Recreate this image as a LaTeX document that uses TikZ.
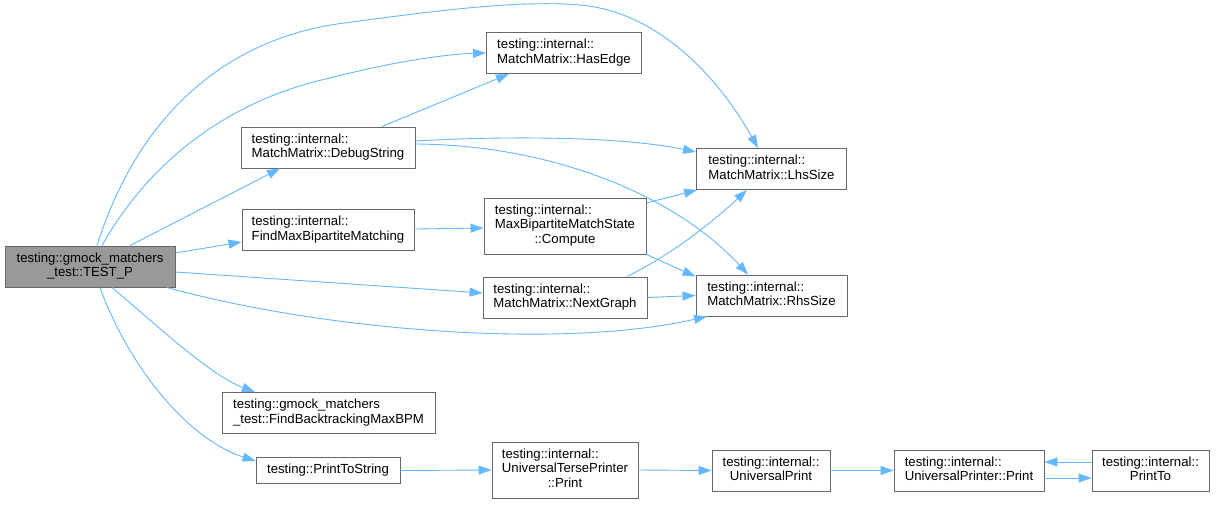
\documentclass[tikz,border=0pt]{standalone}
\usepackage{fontspec}
\setmainfont{Liberation Sans}
\usetikzlibrary{arrows.meta}
\definecolor{edgeblue}{HTML}{63B8FF}
\definecolor{boxline}{HTML}{666666}
\definecolor{curfill}{HTML}{999999}
% label: leading lines left-aligned, last line centred
\newcommand{\mlab}[2]{\begin{tabular}{@{}l@{}}#1\\\multicolumn{1}{@{}c@{}}{#2}\end{tabular}}
\begin{document}
\begin{tikzpicture}[x=1pt,y=-1pt,
  font=\fontsize{13.2}{14.5}\selectfont,
  fn/.style={draw=boxline, line width=0.9pt, fill=white, rectangle, inner sep=0pt, align=center, minimum height=41pt},
  call/.style={draw=edgeblue, line width=0.9pt, -{Triangle[length=13pt,width=9pt]}, fill=none}]
\useasboundingbox[fill=white] (0,0) rectangle (1216,504);

% functions
\node[fn, fill=curfill, minimum width=170pt] (testp) at (90,266.5) {\mlab{testing::gmock\_matchers}{\_test::TEST\_P}};
\node[fn, minimum width=155pt] (hasedge) at (564,53) {\mlab{testing::internal::}{MatchMatrix::HasEdge}};
\node[fn, minimum width=174pt] (debug) at (328,147.5) {\mlab{testing::internal::}{MatchMatrix::DebugString}};
\node[fn, minimum width=150pt] (lhs) at (771.5,169) {\mlab{testing::internal::}{MatchMatrix::LhsSize}};
\node[fn, minimum width=172pt] (findmax) at (328,230) {\mlab{testing::internal::}{FindMaxBipartiteMatching}};
\node[fn, minimum width=162pt, minimum height=56pt] (compute) at (565,226) {\mlab{testing::internal::\\MaxBipartiteMatchState}{::Compute}};
\node[fn, minimum width=164pt] (nextgraph) at (565,297.5) {\mlab{testing::internal::}{MatchMatrix::NextGraph}};
\node[fn, minimum width=151pt] (rhs) at (771.5,295.5) {\mlab{testing::internal::}{MatchMatrix::RhsSize}};
\node[fn, minimum width=213pt] (bpm) at (328.5,413) {\mlab{testing::gmock\_matchers}{\_test::FindBacktrackingMaxBPM}};
\node[fn, minimum width=144pt, minimum height=26pt] (pts) at (328,470.5) {testing::PrintToString};
\node[fn, minimum width=146pt, minimum height=56pt] (utp) at (565,470) {\mlab{testing::internal::\\UniversalTersePrinter}{::Print}};
\node[fn, minimum width=118pt] (uprint) at (771,470.5) {\mlab{testing::internal::}{UniversalPrint}};
\node[fn, minimum width=150pt] (upp) at (969,470.5) {\mlab{testing::internal::}{UniversalPrinter::Print}};
\node[fn, minimum width=117pt] (printto) at (1150.5,470.5) {\mlab{testing::internal::}{PrintTo}};

% calls from TEST_P
\draw[call] ([xshift=7pt]testp.north) .. controls (140,110) and (230,40) .. (337,24)
  .. controls (440,10) and (520,0) .. (580,5)
  .. controls (660,12) and (720,80) .. ([xshift=-13.5pt]lhs.north);
\draw[call] ([xshift=12pt]testp.north) .. controls (150,160) and (230,100) .. (330,78)
  .. controls (400,60) and (450,54) .. (hasedge.west);
\draw[call] ([xshift=40pt]testp.north) -- ([xshift=-48pt]debug.south);
\draw[call] ([yshift=13.5pt]testp.east) -- ([yshift=-12pt]findmax.west);
\draw[call] ([yshift=-5.5pt]testp.east) -- ([yshift=4.5pt]nextgraph.west);
\draw[call] ([xshift=77pt]testp.south) .. controls (320,330) and (560,350) .. ([xshift=-64.5pt]rhs.south);
\draw[call] ([xshift=22pt]testp.south) .. controls (160,328) and (210,375) .. ([xshift=-73.5pt]bpm.north);
\draw[call] ([xshift=10pt]testp.south) .. controls (130,370) and (190,440) .. ([yshift=9.5pt]pts.west);

% calls from DebugString
\draw[call] ([xshift=54pt]debug.north) -- ([xshift=-55pt]hasedge.south);
\draw[call] ([yshift=6.5pt]debug.east) .. controls (500,136) and (620,136) .. ([yshift=17pt]lhs.west);
\draw[call] ([yshift=3.5pt]debug.east) .. controls (560,145) and (680,200) .. ([xshift=-23.5pt]rhs.north);

% matching
\draw[call] ([yshift=1pt]findmax.east) -- ([yshift=-2pt]compute.west);
\draw[call] ([yshift=23pt]compute.east) -- ([xshift=1pt]lhs.south west);
\draw[call] (compute.south east) -- ([yshift=19pt]rhs.west);
\draw[call] ([xshift=62pt]nextgraph.north) .. controls (680,250) and (720,215) .. ([xshift=-24.5pt]lhs.south);
\draw[call] (nextgraph.east) -- (rhs.west);

% printing chain
\draw[call] (pts.east) -- (utp.west);
\draw[call] (utp.east) -- (uprint.west);
\draw[call] (uprint.east) -- (upp.west);
\draw[call] ([yshift=-7.5pt]upp.east) -- ([yshift=-7.5pt]printto.west);
\draw[call] ([yshift=8.5pt]printto.west) -- ([yshift=8.5pt]upp.east);
\end{tikzpicture}
\end{document}
